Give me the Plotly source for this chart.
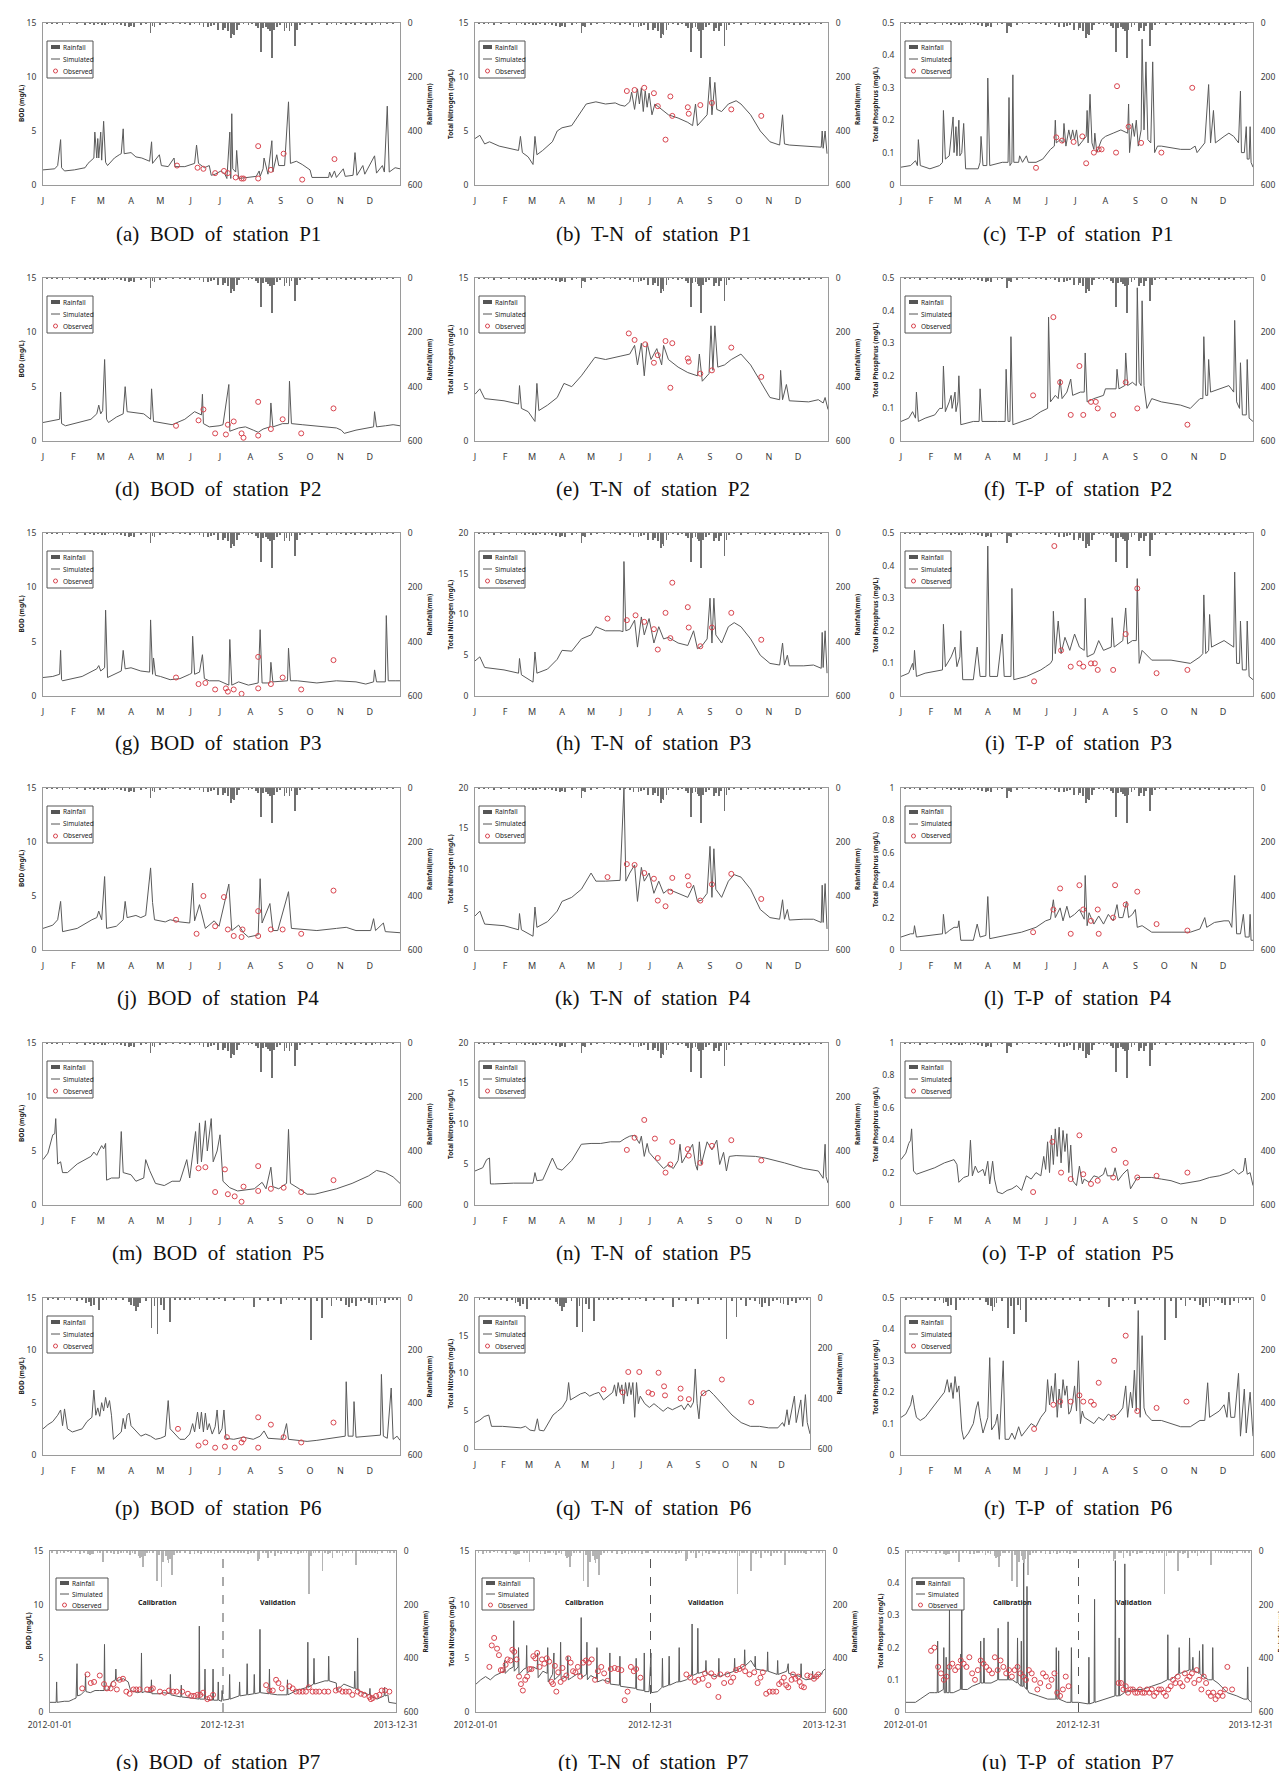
import plotly.graph_objects as go

W, H = 1287, 1771

MONTH_DAYS = [0, 31, 59, 90, 120, 151, 181, 212, 243, 273, 304, 334]
MONTH_LABELS = ['J', 'F', 'M', 'A', 'M', 'J', 'J', 'A', 'S', 'O', 'N', 'D']
P7_TICKS = [0, 365, 730]
P7_LABELS = ['2012-01-01', '2012-12-31', '2013-12-31']
RAIN_TICKS = [0, 200, 400, 600]

# ---------------- rainfall (day, mm) ----------------
rain_p1_p5 = [(4,3),(9,2),(14,2),(20,4),(27,2),(35,3),(43,5),(48,2),(52,6),(56,3),(60,5),(63,8),(67,3),(72,4),(76,2),(80,6),
              (84,12),(88,15),(90,10),(93,14),(100,4),(105,3),(110,37),(112,12),(114,16),(120,5),(126,2),(133,3),(140,3),
              (145,2),(150,4),(155,3),(160,8),(164,15),(169,14),(172,12),(175,4),(179,26),(184,25),(186,18),(189,30),
              (192,56),(193,40),(195,46),(198,25),(200,8),(205,3),(210,5),(214,3),(218,12),(220,20),(223,108),(225,18),
              (228,15),(230,22),(232,28),(234,130),(236,25),(239,15),(242,8),(247,30),(249,20),(252,28),(254,12),(258,86),
              (260,25),(263,8),(268,3),(275,4),(282,2),(290,5),(295,2),(300,8),(305,3),(310,5),(315,2),(319,8),(325,3),
              (330,4),(336,6),(340,2),(345,4),(352,2),(358,3)]
rain_p6 = [(5,5),(10,3),(15,8),(22,4),(28,5),(35,10),(40,4),(44,19),(47,15),(49,32),(52,25),(57,45),(61,5),(65,6),(70,4),
           (75,8),(82,5),(88,15),(90,25),(93,30),(95,50),(97,35),(99,20),(105,12),(111,114),(114,30),(117,136),(121,25),
           (124,44),(130,93),(135,5),(140,8),(145,4),(150,6),(155,3),(160,5),(168,4),(175,8),(180,3),(186,10),(195,8),
           (205,4),(216,34),(222,5),(230,10),(236,4),(243,22),(249,5),(255,8),(262,4),(268,5),(274,161),(280,10),(285,76),
           (290,8),(295,30),(300,5),(305,10),(310,25),(313,35),(316,20),(320,30),(325,12),(329,6),(333,20),(336,25),
           (341,28),(345,12),(350,18),(354,5),(358,6),(362,4)]
rain_p7 = [(5,4),(14,12),(22,4),(30,5),(38,3),(45,6),(54,4),(63,10),(72,4),(80,12),(84,15),(88,12),(91,10),(100,6),(106,4),
           (112,40),(120,6),(128,5),(135,10),(144,12),(150,4),(155,5),(162,4),(168,15),(174,6),(179,12),(187,20),(190,25),
           (193,22),(196,60),(200,18),(205,5),(210,8),(218,6),(225,110),(230,15),(235,135),(239,40),(245,20),(248,32),
           (250,45),(253,30),(258,88),(262,15),(268,5),(275,6),(285,4),(295,12),(305,10),(312,4),(319,10),(326,4),(333,8),
           (340,4),(347,12),(355,4),(360,5),(372,4),(380,6),(388,4),(396,9),(403,4),(410,6),(418,12),(424,4),(430,8),
           (439,38),(442,30),(450,8),(455,5),(460,25),(467,6),(474,18),(481,5),(488,12),(495,4),(500,6),(509,10),(516,4),
           (523,12),(530,5),(535,8),(541,4),(547,160),(551,20),(556,5),(560,8),(567,5),(575,75),(580,6),(586,12),(591,5),
           (596,25),(605,8),(611,4),(617,18),(624,5),(630,6),(638,4),(646,54),(655,8),(661,4),(667,9),(674,4),(680,6),
           (686,4),(691,12),(700,4),(712,9),(718,4),(725,5)]

# ---------------- simulated (day, value) and observed (day, value) ----------------
sim_a = [(0,1.4),(12,1.5),(15,1.8),(18,4.2),(19,1.6),(22,1.3),(32,1.4),(43,1.6),(46,2.0),(50,2.3),(52,2.5),(53,4.9),(55,2.5),
         (56,4.3),(57,2.5),(59,4.9),(60,2.3),(62,5.9),(64,2.1),(66,1.8),(73,2.5),(78,2.8),(80,2.9),(82,5.2),(83,2.9),(90,3.0),
         (95,2.6),(101,2.5),(109,2.2),(111,4.0),(112,2.0),(119,2.8),(121,1.8),(128,1.7),(134,2.5),(135,1.7),(145,1.7),(155,2.0),
         (157,3.7),(159,2.0),(165,1.6),(170,1.8),(172,0.9),(176,1.0),(182,1.3),(186,1.0),(188,0.6),(191,4.9),(192,0.6),(193,6.6),
         (194,1.5),(197,1.2),(198,3.2),(200,0.6),(210,0.7),(218,0.8),(221,1.3),(222,0.8),(225,1.5),(226,2.5),(230,1.0),(234,4.1),
         (235,1.2),(239,2.8),(241,1.8),(247,1.8),(251,7.7),(253,2.0),(259,2.2),(265,1.9),(273,1.4),(275,0.7),(292,0.7),(293,1.2),
         (295,0.7),(298,1.3),(300,0.7),(307,1.5),(309,0.8),(317,0.9),(319,3.0),(321,0.9),(327,1.8),(329,1.0),(339,2.7),(341,1.1),
         (347,1.8),(349,1.2),(352,7.3),(354,1.2),(360,1.6),(365,1.5)]
obs_a = [(137,1.8),(158,1.6),(164,1.5),(176,1.1),(185,1.3),(189,1.1),(197,0.7),(203,0.6),(205,0.6),(220,0.6),(220,3.6),
         (233,1.4),(246,2.9),(265,0.5),(298,2.4)]

sim_b = [(0,4.3),(5,4.6),(10,3.8),(15,4.0),(25,3.6),(35,3.4),(45,3.2),(47,4.5),(49,3.0),(55,2.6),(60,1.9),(62,4.5),(64,2.8),
         (70,3.2),(80,4.0),(85,5.0),(90,5.3),(100,5.5),(105,6.2),(110,6.8),(115,7.5),(125,7.7),(135,7.5),(145,7.6),(150,7.4),
         (155,7.3),(160,7.7),(162,8.6),(165,7.0),(168,8.9),(170,7.5),(172,9.0),(174,6.8),(176,8.7),(178,7.2),(180,8.5),(183,6.5),
         (186,7.5),(190,7.2),(195,6.8),(200,6.5),(210,6.2),(220,5.8),(225,5.5),(228,7.5),(230,5.5),(235,6.0),(240,6.5),(243,10.0),
         (245,6.5),(248,9.5),(250,7.0),(255,6.8),(262,7.5),(270,7.8),(275,7.5),(285,6.5),(295,5.0),(305,4.0),(315,3.7),(318,6.5),
         (320,3.8),(325,3.7),(340,3.6),(350,3.6),(358,3.5),(359,5.0),(360,3.4),(362,5.0),(364,2.9)]
obs_b = [(157,8.7),(165,8.8),(175,9.0),(185,8.5),(189,7.3),(197,4.2),(202,8.2),(204,6.4),(220,7.2),(221,6.6),(233,7.4),
         (245,7.6),(265,7.0),(296,6.4)]

sim_c = [(0,0.055),(10,0.06),(15,0.075),(17,0.06),(18,0.14),(20,0.06),(30,0.05),(40,0.06),(43,0.07),(44,0.23),(46,0.08),
         (50,0.09),(54,0.21),(55,0.10),(57,0.18),(58,0.09),(60,0.20),(61,0.09),(63,0.10),(65,0.19),(67,0.05),(80,0.05),(82,0.07),
         (83,0.15),(85,0.06),(89,0.06),(90,0.33),(92,0.06),(105,0.07),(111,0.07),(112,0.27),(113,0.06),(115,0.07),(116,0.34),
         (117,0.07),(122,0.07),(123,0.09),(126,0.07),(130,0.09),(132,0.07),(140,0.07),(147,0.08),(155,0.11),(159,0.12),(160,0.20),
         (161,0.13),(165,0.14),(168,0.13),(169,0.19),(171,0.12),(174,0.17),(176,0.14),(178,0.17),(180,0.14),(182,0.17),(184,0.12),
         (192,0.15),(193,0.23),(194,0.13),(196,0.28),(198,0.13),(200,0.11),(201,0.16),(203,0.10),(208,0.14),(212,0.15),(220,0.16),
         (228,0.17),(235,0.16),(236,0.25),(237,0.10),(238,0.13),(240,0.19),(242,0.15),(244,0.20),(246,0.12),(249,0.17),(250,0.45),
         (252,0.17),(254,0.38),(256,0.14),(259,0.13),(261,0.38),(263,0.10),(266,0.12),(270,0.12),(290,0.11),(300,0.11),(305,0.12),
         (307,0.10),(315,0.13),(319,0.31),(321,0.13),(324,0.23),(326,0.13),(335,0.15),(340,0.16),(345,0.15),(350,0.13),(352,0.29),
         (353,0.10),(356,0.10),(358,0.18),(359,0.08),(361,0.08),(362,0.18),(363,0.07),(365,0.055)]
obs_c = [(140,0.053),(161,0.147),(167,0.137),(179,0.133),(188,0.15),(192,0.067),(200,0.10),(205,0.11),(208,0.11),(224,0.305),
         (223,0.10),(236,0.18),(249,0.13),(270,0.10),(302,0.30)]

sim_d = [(0,1.7),(15,2.0),(17,2.0),(18,4.5),(19,1.6),(23,1.4),(35,1.7),(49,2.0),(55,2.5),(57,3.3),(59,2.5),(61,2.8),(63,7.5),
         (65,2.0),(67,1.7),(75,2.2),(82,2.5),(84,5.0),(86,2.7),(95,2.6),(103,2.5),(110,2.0),(111,4.8),(113,1.8),(120,1.7),
         (132,1.5),(145,2.0),(155,2.7),(162,2.4),(163,4.3),(164,1.6),(170,1.3),(180,1.4),(184,1.5),(190,5.2),(191,0.9),(200,1.2),
         (207,1.3),(215,1.0),(220,0.8),(225,1.1),(232,1.3),(233,3.5),(235,1.3),(245,1.6),(251,1.6),(252,5.5),(254,1.6),(265,1.5),
         (275,1.4),(290,1.3),(300,1.2),(305,1.0),(308,0.7),(320,1.0),(333,1.2),(338,1.3),(339,2.7),(341,1.3),(350,1.4),(358,1.5),
         (365,1.4)]
obs_d = [(136,1.4),(159,1.9),(164,2.9),(176,0.7),(187,0.6),(189,1.5),(195,1.8),(203,0.7),(205,0.3),(220,0.5),(220,3.6),
         (233,1.1),(245,2.0),(264,0.7),(297,3.0)]

sim_e = [(0,4.3),(5,4.8),(10,3.9),(30,3.7),(45,3.4),(46,5.1),(48,3.0),(55,2.7),(62,1.8),(64,5.3),(66,2.8),(75,3.3),(85,4.0),
         (92,5.3),(100,5.0),(110,6.0),(124,7.7),(135,7.5),(150,7.8),(160,8.0),(165,8.8),(168,7.0),(172,9.0),(175,6.0),(178,9.0),
         (182,7.5),(188,8.5),(193,7.0),(195,8.8),(200,7.5),(210,6.8),(220,6.3),(230,6.0),(232,8.0),(235,5.5),(242,6.2),(244,10.6),
         (246,6.5),(248,10.6),(251,6.8),(258,7.0),(265,7.5),(275,8.0),(285,7.0),(295,5.5),(305,4.0),(315,3.8),(316,6.5),(318,3.8),
         (322,5.2),(325,3.7),(345,3.6),(355,3.8),(360,3.5),(362,4.0),(365,2.9)]
obs_e = [(159,9.9),(165,9.3),(176,8.9),(185,7.2),(189,7.9),(197,9.2),(202,4.9),(204,9.0),(220,7.6),(221,7.3),(233,6.2),
         (245,6.5),(265,8.6),(296,5.9)]

sim_f = [(0,0.06),(8,0.07),(12,0.09),(15,0.07),(16,0.15),(18,0.06),(25,0.07),(35,0.08),(40,0.10),(43,0.10),(44,0.23),(46,0.09),
         (50,0.12),(52,0.14),(53,0.10),(56,0.15),(57,0.09),(59,0.12),(60,0.20),(62,0.05),(75,0.06),(81,0.06),(82,0.16),(84,0.06),
         (100,0.06),(108,0.06),(109,0.22),(111,0.06),(113,0.06),(114,0.32),(116,0.05),(125,0.06),(135,0.07),(145,0.09),(152,0.10),
         (153,0.38),(155,0.12),(160,0.14),(163,0.13),(165,0.19),(167,0.13),(172,0.15),(176,0.19),(178,0.14),(186,0.15),(190,0.15),
         (191,0.27),(193,0.12),(200,0.13),(210,0.14),(212,0.16),(223,0.16),(224,0.22),(226,0.16),(232,0.17),(233,0.27),(235,0.17),
         (240,0.18),(244,0.17),(245,0.47),(247,0.18),(249,0.17),(250,0.43),(252,0.17),(255,0.10),(260,0.13),(270,0.12),(290,0.11),
         (300,0.10),(310,0.13),(313,0.13),(314,0.32),(316,0.14),(318,0.14),(319,0.25),(321,0.15),(330,0.16),(340,0.17),(345,0.15),
         (346,0.37),(348,0.12),(351,0.10),(352,0.24),(354,0.08),(358,0.08),(359,0.25),(361,0.07),(365,0.06)]
obs_f = [(137,0.14),(158,0.38),(165,0.18),(176,0.08),(185,0.23),(189,0.08),(197,0.12),(202,0.12),(204,0.10),(220,0.08),
         (233,0.18),(245,0.10),(297,0.05)]

sim_g = [(0,1.7),(10,1.8),(17,2.0),(18,4.2),(19,1.5),(20,1.4),(40,1.8),(55,2.5),(57,2.8),(59,2.3),(63,2.6),(64,7.9),(66,1.7),
         (80,2.3),(82,4.2),(84,2.5),(90,2.6),(100,2.3),(109,2.2),(110,7.0),(112,2.0),(113,3.5),(115,1.9),(120,1.8),(130,1.5),
         (140,1.6),(150,2.0),(152,2.1),(153,5.5),(155,2.0),(160,2.2),(163,3.8),(165,1.6),(170,1.4),(180,1.4),(190,1.0),(191,5.2),
         (193,1.0),(200,1.3),(210,1.0),(220,1.2),(222,6.1),(224,1.2),(232,1.2),(233,3.1),(235,1.3),(250,1.4),(251,4.4),(253,1.4),
         (260,1.4),(280,1.2),(300,1.4),(320,1.3),(330,1.1),(338,1.3),(339,2.4),(341,1.3),(350,1.3),(351,7.4),(353,1.4),(360,1.4),
         (365,1.4)]
obs_g = [(136,1.7),(159,1.1),(166,1.2),(176,0.6),(187,0.7),(189,0.4),(195,0.6),(203,0.2),(220,0.7),(220,3.6),(233,1.1),
         (245,1.7),(264,0.6),(297,3.3)]

sim_h = [(0,4.3),(5,4.8),(10,3.5),(30,3.2),(45,2.8),(46,4.6),(48,2.6),(60,1.7),(62,5.4),(64,2.8),(75,3.3),(85,4.5),(90,5.6),
         (100,5.5),(110,7.0),(120,7.5),(125,8.5),(135,8.0),(150,8.0),(153,7.9),(154,16.5),(156,8.0),(160,8.2),(165,9.3),(168,6.0),
         (172,9.7),(175,7.5),(180,9.5),(185,6.5),(190,8.5),(195,7.0),(200,7.2),(210,6.5),(220,6.2),(226,8.0),(230,5.8),(235,6.2),
         (240,7.0),(243,12.0),(245,6.5),(247,12.0),(249,7.5),(255,6.5),(262,8.5),(268,9.0),(275,8.5),(285,7.0),(295,5.0),(305,4.0),
         (315,3.8),(318,6.5),(320,3.8),(323,5.0),(325,3.7),(340,3.7),(350,3.8),(358,3.4),(359,7.8),(360,3.5),(362,8.0),(364,2.8)]
obs_h = [(137,9.5),(157,9.3),(166,9.9),(175,9.1),(185,8.2),(189,5.7),(197,10.2),(202,7.1),(204,13.9),(220,10.9),(221,8.4),
         (233,6.1),(245,8.4),(265,10.2),(296,6.9)]

sim_i = [(0,0.06),(8,0.07),(12,0.10),(13,0.08),(14,0.14),(16,0.06),(25,0.07),(40,0.08),(43,0.08),(44,0.22),(46,0.09),(52,0.12),
         (56,0.15),(58,0.09),(61,0.12),(62,0.20),(64,0.05),(75,0.05),(79,0.15),(82,0.06),(88,0.06),(90,0.46),(92,0.06),(100,0.06),
         (105,0.19),(107,0.06),(114,0.06),(115,0.33),(117,0.05),(130,0.06),(145,0.08),(150,0.09),(155,0.10),(157,0.11),(158,0.26),
         (160,0.13),(163,0.23),(166,0.13),(170,0.18),(175,0.14),(180,0.19),(185,0.15),(190,0.14),(191,0.30),(193,0.12),(200,0.13),
         (205,0.17),(210,0.14),(218,0.15),(219,0.24),(221,0.15),(230,0.17),(233,0.27),(235,0.16),(240,0.17),(244,0.17),(245,0.36),
         (247,0.10),(250,0.14),(260,0.11),(280,0.11),(300,0.10),(310,0.12),(313,0.13),(314,0.31),(316,0.13),(319,0.14),(320,0.25),
         (322,0.15),(335,0.17),(340,0.16),(345,0.15),(346,0.38),(348,0.10),(351,0.10),(352,0.23),(354,0.08),(358,0.08),(359,0.23),
         (361,0.06),(365,0.05)]
obs_i = [(138,0.045),(159,0.46),(166,0.14),(176,0.09),(185,0.10),(189,0.09),(197,0.10),(201,0.10),(204,0.08),(220,0.08),
         (233,0.19),(245,0.33),(265,0.07),(297,0.08)]

sim_j = [(0,2.0),(10,2.3),(15,2.8),(18,4.5),(20,1.7),(35,2.0),(50,2.8),(55,3.0),(57,3.6),(60,2.8),(63,6.8),(65,2.0),(75,2.2),
         (82,2.8),(84,4.5),(86,3.0),(95,3.2),(100,3.0),(105,3.2),(110,7.6),(112,4.4),(114,2.8),(125,2.6),(130,2.8),(140,2.6),
         (150,2.5),(153,6.2),(155,2.7),(160,4.2),(163,3.2),(166,2.0),(175,2.7),(180,2.2),(190,6.1),(193,1.8),(200,2.3),(205,1.6),
         (210,1.2),(220,1.4),(222,6.6),(224,2.5),(232,4.3),(235,1.8),(240,1.8),(251,5.4),(254,2.0),(265,1.9),(280,1.8),(300,2.0),
         (310,2.1),(320,1.8),(335,1.8),(338,2.9),(340,1.8),(348,2.5),(350,1.7),(365,1.6)]
obs_j = [(136,2.8),(157,1.5),(164,5.0),(176,2.2),(185,4.9),(189,1.9),(195,1.3),(203,1.2),(204,1.9),(220,1.3),(220,3.6),
         (233,1.9),(245,1.9),(264,1.5),(297,5.5)]

sim_k = [(0,4.2),(5,4.8),(10,3.2),(30,3.0),(45,2.5),(46,4.5),(48,2.5),(60,1.7),(62,5.3),(64,2.8),(75,3.5),(85,4.8),(90,6.0),
         (100,6.5),(110,7.5),(115,8.5),(120,9.5),(125,8.5),(135,8.5),(150,8.6),(154,20.0),(156,8.5),(160,9.5),(165,10.5),(168,6.0),
         (172,10.2),(175,8.5),(180,9.5),(185,7.0),(190,8.5),(195,7.0),(200,7.5),(210,7.0),(220,6.5),(226,8.0),(230,6.0),(235,6.2),
         (240,7.0),(243,12.8),(245,6.5),(247,12.5),(249,7.5),(255,6.5),(262,8.5),(268,9.3),(275,9.0),(285,7.5),(295,5.0),(305,4.0),
         (315,3.8),(318,6.2),(320,3.8),(323,5.0),(325,3.7),(340,3.8),(350,3.8),(358,3.4),(359,8.0),(360,3.4),(362,8.2),(364,2.6)]
obs_k = [(137,9.0),(157,10.6),(165,10.5),(175,9.5),(185,8.8),(189,6.1),(197,5.4),(202,7.2),(204,8.9),(220,9.1),(221,8.0),
         (233,6.1),(245,8.1),(265,9.4),(296,6.3)]

sim_l = [(0,0.08),(10,0.10),(13,0.10),(14,0.15),(16,0.08),(30,0.09),(43,0.10),(44,0.22),(46,0.10),(50,0.12),(55,0.14),(59,0.14),
         (60,0.18),(62,0.06),(75,0.06),(79,0.16),(82,0.08),(88,0.09),(90,0.33),(92,0.07),(110,0.09),(125,0.11),(140,0.14),
         (150,0.18),(155,0.19),(158,0.31),(160,0.20),(165,0.26),(168,0.18),(172,0.27),(175,0.20),(180,0.22),(185,0.25),(190,0.19),
         (191,0.46),(193,0.15),(195,0.23),(200,0.16),(205,0.21),(210,0.16),(215,0.22),(220,0.18),(224,0.28),(226,0.20),(230,0.20),
         (234,0.30),(236,0.20),(240,0.22),(243,0.25),(245,0.14),(250,0.15),(260,0.11),(280,0.11),(300,0.11),(310,0.13),(315,0.20),
         (317,0.14),(325,0.17),(335,0.18),(340,0.18),(343,0.14),(346,0.46),(348,0.10),(352,0.10),(355,0.22),(357,0.08),(361,0.08),
         (362,0.22),(363,0.06),(365,0.06)]
obs_l = [(137,0.11),(158,0.25),(165,0.38),(176,0.10),(185,0.40),(189,0.25),(197,0.18),(204,0.25),(205,0.10),(220,0.20),
         (222,0.40),(233,0.28),(245,0.36),(265,0.16),(297,0.12)]

sim_m = [(0,4.2),(5,4.8),(10,6.5),(12,6.6),(13,8.0),(15,3.8),(18,4.0),(20,3.0),(25,3.0),(35,3.8),(45,4.3),(49,4.5),(52,4.9),
         (55,4.6),(57,5.0),(60,5.5),(62,5.2),(64,5.7),(65,2.3),(70,2.5),(78,2.5),(80,6.8),(82,3.0),(90,2.8),(95,2.2),(103,2.5),
         (105,4.2),(109,3.2),(115,2.0),(124,1.8),(132,2.2),(140,2.2),(147,4.2),(150,2.5),(156,6.8),(158,3.8),(160,7.6),(162,4.0),
         (166,7.8),(168,5.0),(172,8.0),(174,4.0),(178,5.0),(181,6.5),(184,2.2),(191,1.6),(199,1.3),(207,1.4),(216,1.5),(224,2.1),
         (228,1.5),(233,3.5),(235,1.7),(241,1.5),(249,2.0),(251,7.0),(253,2.0),(262,1.5),(270,1.0),(278,1.0),(291,1.3),(300,1.5),
         (316,2.0),(333,2.7),(341,3.2),(350,3.0),(358,2.6),(365,2.0)]
obs_m = [(159,3.4),(166,3.5),(176,1.2),(186,3.3),(189,1.0),(196,0.8),(203,0.3),(205,1.7),(220,1.3),(220,3.6),(233,1.5),
         (246,1.6),(264,1.2),(297,2.3)]

sim_n = [(0,4.2),(8,4.6),(12,5.6),(15,5.8),(16,2.6),(20,2.6),(40,2.7),(60,2.7),(62,4.0),(64,3.0),(70,3.1),(75,4.5),(80,5.8),
         (85,4.5),(90,4.3),(100,5.5),(105,6.5),(110,7.5),(120,7.6),(130,7.6),(140,7.8),(150,7.8),(155,8.2),(160,8.5),(165,8.6),
         (170,7.6),(172,8.5),(175,6.0),(178,7.6),(180,6.5),(185,5.8),(190,5.2),(195,4.5),(200,5.0),(205,4.5),(210,5.5),(212,7.5),
         (214,5.2),(220,6.5),(225,7.5),(228,5.0),(230,4.3),(232,7.8),(234,5.0),(240,7.8),(245,6.8),(250,8.0),(253,5.0),(257,6.5),
         (260,4.2),(263,6.0),(270,6.1),(290,6.0),(300,5.8),(320,5.2),(340,4.5),(355,4.2),(360,3.3),(362,7.5),(363,3.5),(365,2.7)]
obs_n = [(157,6.8),(165,8.3),(175,10.5),(186,8.2),(189,5.8),(197,4.0),(202,5.0),(204,7.8),(220,6.9),(221,6.1),(233,5.2),
         (245,7.3),(265,8.0),(296,5.5)]

sim_o = [(0,0.28),(5,0.32),(8,0.38),(10,0.40),(11,0.47),(13,0.21),(16,0.19),(25,0.21),(35,0.23),(45,0.26),(50,0.27),(55,0.28),
         (58,0.25),(60,0.14),(65,0.17),(70,0.18),(72,0.40),(74,0.18),(77,0.24),(80,0.20),(85,0.22),(87,0.18),(90,0.27),(92,0.13),
         (95,0.27),(97,0.16),(100,0.08),(105,0.07),(110,0.09),(115,0.10),(120,0.12),(125,0.09),(130,0.18),(135,0.16),(140,0.20),
         (145,0.18),(148,0.30),(150,0.22),(152,0.39),(154,0.20),(156,0.43),(158,0.25),(160,0.47),(162,0.30),(164,0.48),(166,0.26),
         (168,0.46),(170,0.33),(172,0.44),(174,0.20),(176,0.37),(178,0.15),(182,0.12),(185,0.24),(188,0.13),(190,0.16),(195,0.14),
         (200,0.18),(205,0.17),(210,0.19),(212,0.23),(214,0.18),(220,0.18),(222,0.23),(225,0.15),(230,0.19),(235,0.22),(238,0.10),
         (245,0.17),(250,0.17),(260,0.17),(270,0.16),(280,0.15),(290,0.13),(300,0.14),(310,0.15),(320,0.17),(330,0.18),(340,0.20),
         (345,0.22),(350,0.19),(355,0.21),(357,0.29),(359,0.19),(362,0.20),(365,0.12)]
obs_o = [(137,0.08),(157,0.39),(166,0.20),(176,0.16),(185,0.43),(189,0.19),(197,0.13),(204,0.15),(220,0.17),(221,0.34),
         (233,0.26),(245,0.17),(265,0.18),(297,0.20)]

sim_p = [(0,2.5),(5,2.9),(10,3.2),(15,3.8),(18,4.3),(20,2.8),(22,4.4),(25,2.5),(30,2.2),(40,2.5),(45,3.2),(50,3.6),(52,6.2),
         (54,3.8),(56,4.5),(58,3.7),(60,5.0),(62,4.2),(64,5.5),(66,4.5),(68,5.2),(70,3.8),(72,1.5),(75,1.8),(80,2.2),(82,3.5),
         (84,2.5),(86,3.8),(88,4.0),(90,2.8),(95,2.3),(100,1.8),(105,2.0),(110,1.8),(115,1.5),(120,1.6),(125,1.8),(128,5.2),
         (130,2.5),(135,2.0),(140,1.5),(145,1.5),(148,1.8),(150,2.0),(153,3.0),(155,2.2),(158,4.1),(160,2.5),(162,4.1),(164,2.2),
         (166,4.0),(168,2.4),(170,3.0),(173,2.0),(176,2.7),(178,4.3),(180,2.0),(183,2.5),(185,4.3),(187,1.6),(195,1.5),(205,1.7),
         (215,1.5),(222,1.8),(226,2.3),(230,1.6),(245,1.5),(249,3.0),(251,1.5),(260,1.4),(270,1.3),(280,1.4),(295,1.6),(305,1.7),
         (309,1.8),(310,7.0),(312,1.8),(317,1.8),(318,5.1),(320,1.7),(330,1.8),(340,1.9),(345,1.9),(346,7.7),(348,1.8),(352,1.6),
         (356,6.4),(358,1.5),(362,1.8),(365,1.4)]
obs_p = [(138,2.5),(159,0.9),(166,1.2),(176,0.7),(186,0.8),(188,1.7),(196,0.7),(203,1.2),(205,1.5),(220,3.6),(220,0.7),
         (233,2.9),(246,1.7),(264,1.2),(297,3.1)]

sim_q = [(0,3.5),(5,3.8),(10,4.3),(15,4.5),(18,3.0),(30,3.0),(50,2.8),(55,3.0),(60,2.5),(65,2.4),(68,4.0),(70,2.5),(75,2.4),
         (80,3.5),(85,4.5),(90,5.0),(95,5.5),(100,6.5),(102,8.8),(104,6.5),(110,7.0),(115,7.3),(120,7.5),(125,7.0),(130,7.3),
         (135,7.5),(140,6.5),(145,7.0),(150,7.5),(152,8.5),(154,7.0),(156,8.8),(158,7.5),(160,8.5),(162,6.0),(164,8.8),(166,7.0),
         (168,8.8),(170,7.2),(172,8.8),(174,4.2),(176,8.8),(178,6.0),(180,7.0),(185,6.0),(190,5.5),(195,6.0),(200,5.5),(205,5.0),
         (210,5.5),(215,5.2),(220,5.5),(225,5.8),(228,5.2),(232,6.0),(235,5.5),(238,6.2),(240,10.6),(242,6.0),(244,4.0),(246,7.0),
         (250,7.5),(255,7.8),(260,7.2),(265,6.5),(270,5.8),(280,4.5),(290,3.5),(300,3.0),(310,3.0),(320,2.8),(330,2.8),(335,3.5),
         (337,3.0),(340,5.2),(342,3.2),(348,7.0),(350,3.5),(355,6.5),(357,3.0),(360,7.2),(362,3.5),(365,2.0)]
obs_q = [(140,7.9),(161,7.5),(167,10.2),(179,10.2),(189,7.5),(193,7.3),(200,10.1),(206,8.3),(207,7.1),(224,6.7),(224,8.0),
         (233,6.6),(249,7.4),(269,9.2),(301,6.2)]

sim_r = [(0,0.12),(5,0.13),(10,0.16),(12,0.19),(14,0.15),(16,0.12),(20,0.11),(25,0.12),(30,0.14),(35,0.16),(40,0.18),(45,0.20),
         (48,0.24),(50,0.20),(52,0.23),(54,0.18),(56,0.25),(58,0.20),(60,0.22),(63,0.08),(65,0.05),(70,0.07),(75,0.10),(78,0.15),
         (80,0.17),(82,0.12),(85,0.07),(90,0.12),(92,0.31),(94,0.08),(98,0.10),(100,0.13),(102,0.05),(106,0.30),(108,0.05),
         (112,0.05),(115,0.07),(118,0.05),(122,0.09),(125,0.06),(130,0.08),(135,0.10),(140,0.09),(145,0.12),(150,0.14),(152,0.24),
         (154,0.16),(156,0.22),(158,0.17),(160,0.26),(162,0.12),(164,0.21),(166,0.15),(168,0.24),(170,0.19),(172,0.22),(174,0.13),
         (176,0.14),(178,0.17),(180,0.22),(182,0.14),(184,0.30),(186,0.10),(188,0.14),(190,0.12),(195,0.11),(200,0.10),(205,0.12),
         (210,0.11),(215,0.13),(220,0.12),(225,0.13),(230,0.15),(233,0.22),(235,0.12),(238,0.20),(240,0.15),(242,0.27),(244,0.14),
         (246,0.46),(248,0.12),(250,0.38),(252,0.15),(254,0.13),(260,0.11),(270,0.11),(280,0.10),(290,0.09),(300,0.09),(305,0.10),
         (310,0.11),(315,0.11),(318,0.23),(320,0.12),(325,0.13),(330,0.14),(335,0.16),(338,0.12),(340,0.20),(342,0.12),(346,0.12),
         (350,0.26),(352,0.06),(356,0.21),(358,0.07),(362,0.20),(365,0.06)]
obs_r = [(138,0.083),(158,0.16),(165,0.17),(176,0.17),(185,0.19),(189,0.17),(197,0.17),(200,0.16),(205,0.23),(221,0.30),
         (220,0.12),(233,0.38),(245,0.14),(265,0.15),(296,0.17)]

sim_s = [(0,0.9),(13,0.9),(14,2.8),(15,0.9),(30,1.0),(40,1.0),(50,1.2),(55,1.3),(57,4.5),(58,1.5),(65,1.6),(74,2.0),(75,3.5),
         (76,1.9),(85,1.8),(95,2.0),(105,2.0),(114,2.0),(115,6.3),(116,2.0),(125,2.1),(130,2.8),(138,3.0),(139,4.0),(140,2.9),
         (155,3.1),(165,2.8),(170,2.0),(185,1.8),(192,1.9),(193,5.5),(194,1.8),(200,1.9),(213,1.8),(214,3.0),(215,1.7),(230,1.7),
         (240,1.8),(253,1.7),(254,3.5),(255,1.6),(265,1.5),(276,1.4),(277,2.5),(278,1.4),(300,1.3),(314,1.2),(315,8.0),(316,1.2),
         (326,1.2),(327,4.0),(328,1.2),(343,1.1),(344,4.0),(345,1.1),(354,1.1),(355,2.8),(356,1.1),(362,1.0),(363,2.0),(365,1.1),
         (378,1.2),(379,3.5),(380,1.2),(399,1.5),(400,2.8),(401,1.5),(415,1.6),(416,4.5),(417,1.6),(430,1.7),(431,3.5),(432,1.7),
         (442,1.8),(443,7.7),(444,1.8),(462,1.7),(463,4.0),(464,1.7),(480,1.6),(500,1.6),(501,3.0),(502,1.6),(520,2.0),(543,2.3),
         (544,6.5),(545,2.3),(556,2.6),(557,5.0),(558,2.6),(580,2.9),(587,2.9),(588,5.2),(589,2.9),(600,2.8),(604,2.7),(605,2.0),
         (620,2.6),(642,2.2),(643,3.8),(644,2.2),(648,2.1),(649,6.9),(650,2.0),(660,1.8),(674,1.6),(675,2.2),(676,1.5),(690,1.2),
         (700,1.4),(705,1.5),(706,2.3),(707,1.5),(713,1.6),(715,0.9),(730,0.8)]
obs_s = [(68,2.2),(79,3.5),(86,2.7),(93,2.8),(105,3.4),(114,2.6),(120,2.2),(128,2.2),(134,2.6),(141,2.1),(147,3.0),(154,3.1),
         (161,1.9),(168,1.7),(176,2.1),(182,2.1),(189,2.1),(205,2.1),(213,2.1),(217,2.2),(232,1.9),(242,1.8),(251,2.0),(260,1.9),
         (267,1.9),(279,1.9),(291,1.7),(298,1.5),(304,1.5),(311,1.6),(317,1.6),(323,1.8),(332,1.2),(337,1.3),(344,1.6),(456,2.5),
         (463,2.0),(470,2.0),(477,3.0),(482,2.7),(489,2.2),(505,2.4),(512,2.2),(519,1.9),(526,1.9),(533,1.9),(540,1.9),(546,2.3),
         (554,1.9),(561,1.9),(568,1.9),(579,1.9),(587,1.9),(603,2.0),(610,2.1),(617,1.9),(624,1.9),(631,1.9),(638,1.6),(649,1.9),
         (656,1.7),(663,1.6),(674,1.4),(677,1.2),(681,1.3),(688,1.5),(695,1.6),(700,2.0),(707,2.0),(716,1.9)]

sim_t = [(0,2.6),(10,3.0),(20,3.3),(30,3.0),(40,3.4),(50,3.6),(59,3.8),(60,4.8),(61,3.6),(70,4.0),(78,4.2),(79,8.5),(80,3.8),
         (88,4.2),(89,6.0),(90,3.5),(100,4.0),(105,4.1),(106,6.2),(107,3.6),(120,4.2),(128,4.0),(129,5.5),(130,3.2),(140,3.8),
         (149,3.6),(150,6.0),(151,2.8),(160,3.5),(163,5.5),(164,3.0),(176,3.5),(177,6.5),(178,3.0),(191,3.4),(192,5.2),(193,3.0),
         (200,3.2),(210,3.5),(219,3.6),(220,8.8),(221,3.2),(231,3.5),(232,6.5),(233,3.0),(240,3.4),(252,3.1),(253,6.0),(254,2.8),
         (265,3.0),(279,2.8),(280,5.5),(281,2.6),(300,2.5),(301,5.2),(302,2.4),(320,2.3),(334,2.2),(335,5.0),(336,2.1),(351,2.0),
         (352,5.5),(353,1.9),(362,1.9),(366,5.5),(367,1.8),(380,1.9),(389,2.3),(390,5.0),(391,2.3),(403,2.5),(404,5.2),(405,2.5),
         (420,2.8),(424,2.8),(425,6.0),(426,2.8),(440,3.0),(451,3.4),(452,8.2),(453,3.4),(463,3.6),(464,7.8),(465,3.6),(480,3.8),
         (481,4.8),(482,3.6),(500,3.3),(507,3.4),(508,5.0),(509,3.3),(520,3.5),(540,3.8),(541,5.0),(542,3.8),(561,4.3),(562,5.8),
         (563,4.3),(575,4.8),(583,4.2),(584,5.2),(585,4.0),(609,3.8),(610,5.6),(611,3.8),(630,3.5),(631,4.8),(632,3.5),(650,3.8),
         (653,4.5),(654,3.6),(670,3.4),(679,3.3),(680,4.5),(681,3.2),(690,3.0),(703,3.1),(704,3.8),(705,3.1),(710,3.2),(722,3.6),
         (723,3.5),(725,3.8),(730,4.0)]
obs_t = [(28,4.2),(33,6.2),(38,6.9),(44,5.9),(48,5.3),(52,3.9),(56,3.9),(62,4.4),(66,4.9),(72,4.8),(76,5.8),(80,5.6),(85,4.9),
         (90,3.3),(94,2.6),(98,2.0),(103,3.0),(107,3.3),(112,4.0),(116,4.0),(120,5.2),(124,5.0),(128,5.5),(133,4.2),(138,4.9),
         (143,4.5),(148,5.0),(153,4.7),(158,2.8),(161,2.6),(165,4.3),(168,1.9),(172,3.7),(177,2.8),(181,4.1),(184,3.1),(189,3.4),
         (193,5.0),(198,4.6),(203,3.8),(208,3.7),(213,4.2),(218,3.3),(224,4.6),(230,4.8),(236,4.6),(242,4.9),(249,3.0),(255,3.8),
         (262,4.2),(268,3.6),(275,2.9),(282,4.0),(290,4.1),(297,4.0),(304,3.9),(311,1.1),(317,1.9),(324,4.2),(330,3.8),(335,4.0),
         (344,3.2),(440,3.5),(448,3.2),(458,2.8),(465,3.0),(474,3.1),(479,3.6),(486,2.5),(492,3.6),(498,3.3),(507,1.4),(511,3.5),
         (519,2.7),(526,3.5),(533,2.8),(538,3.2),(544,3.9),(551,4.0),(558,4.2),(563,3.8),(572,3.5),(582,3.7),(589,2.7),(595,3.2),
         (600,3.7),(607,1.7),(614,1.9),(621,1.9),(628,1.9),(634,2.6),(639,2.8),(644,3.2),(649,2.5),(653,2.3),(660,3.0),(663,3.5),
         (668,3.1),(674,3.3),(677,2.8),(681,2.4),(686,2.3),(693,3.4),(700,3.3),(707,3.1),(712,3.3),(716,3.5)]

sim_u = [(0,0.03),(20,0.03),(30,0.04),(40,0.05),(50,0.06),(60,0.06),(66,0.06),(67,0.22),(68,0.06),(79,0.07),(80,0.20),(81,0.06),
         (84,0.06),(85,0.17),(86,0.06),(91,0.06),(92,0.33),(93,0.06),(100,0.06),(115,0.07),(116,0.18),(117,0.07),(118,0.36),
         (119,0.07),(130,0.07),(140,0.08),(157,0.09),(158,0.22),(159,0.09),(164,0.09),(165,0.23),(166,0.09),(180,0.09),(194,0.10),
         (195,0.26),(196,0.10),(200,0.10),(215,0.10),(216,0.28),(217,0.10),(225,0.10),(235,0.09),(236,0.23),(237,0.09),(243,0.08),
         (244,0.22),(245,0.08),(248,0.08),(249,0.50),(250,0.08),(255,0.07),(256,0.39),(257,0.07),(260,0.06),(280,0.05),(300,0.04),
         (317,0.04),(318,0.20),(319,0.04),(322,0.04),(323,0.19),(324,0.04),(340,0.03),(349,0.03),(350,0.20),(351,0.03),(365,0.03),
         (380,0.025),(386,0.025),(387,0.17),(388,0.025),(398,0.03),(399,0.35),(400,0.03),(420,0.04),(440,0.05),(442,0.05),
         (443,0.47),(444,0.05),(450,0.05),(451,0.23),(452,0.05),(460,0.06),(462,0.06),(463,0.46),(464,0.06),(480,0.07),(500,0.07),
         (520,0.08),(540,0.09),(553,0.10),(554,0.24),(555,0.10),(560,0.10),(577,0.12),(578,0.20),(579,0.12),(580,0.12),(599,0.13),
         (600,0.23),(601,0.13),(606,0.13),(607,0.17),(608,0.13),(620,0.12),(621,0.19),(622,0.12),(627,0.11),(628,0.21),(629,0.11),
         (640,0.10),(648,0.10),(649,0.20),(650,0.10),(660,0.09),(680,0.06),(700,0.05),(715,0.04),(722,0.04),(723,0.14),(724,0.04),
         (730,0.03)]
obs_u = [(53,0.19),(60,0.20),(68,0.14),(74,0.12),(80,0.10),(86,0.11),(92,0.14),(98,0.15),(104,0.13),(110,0.14),(116,0.16),
         (122,0.15),(128,0.14),(134,0.17),(140,0.12),(146,0.10),(152,0.13),(158,0.16),(164,0.15),(170,0.14),(176,0.13),(182,0.12),
         (188,0.17),(194,0.13),(200,0.16),(206,0.14),(212,0.12),(218,0.13),(224,0.11),(230,0.13),(236,0.14),(242,0.12),(248,0.11),
         (254,0.10),(260,0.13),(266,0.12),(272,0.10),(278,0.07),(284,0.09),(290,0.12),(296,0.11),(302,0.08),(308,0.10),(314,0.12),
         (320,0.06),(326,0.05),(332,0.07),(338,0.11),(344,0.08),(450,0.09),(455,0.09),(460,0.07),(465,0.08),(470,0.06),(475,0.07),
         (480,0.07),(485,0.06),(490,0.06),(495,0.07),(500,0.06),(505,0.06),(510,0.07),(515,0.06),(520,0.07),(525,0.05),(530,0.06),
         (535,0.07),(540,0.07),(545,0.06),(550,0.05),(555,0.07),(560,0.08),(565,0.10),(570,0.09),(575,0.11),(580,0.09),(585,0.08),
         (590,0.12),(595,0.10),(600,0.11),(605,0.12),(610,0.09),(615,0.13),(620,0.10),(625,0.07),(630,0.11),(635,0.09),(640,0.06),
         (645,0.05),(650,0.06),(655,0.04),(660,0.05),(665,0.06),(670,0.05),(675,0.07),(680,0.14),(690,0.07)]

# ---------------- panel text ----------------
captions = ['(a)  BOD  of  station  P1', '(b)  T-N  of  station  P1', '(c)  T-P  of  station  P1',
            '(d)  BOD  of  station  P2', '(e)  T-N  of  station  P2', '(f)  T-P  of  station  P2',
            '(g)  BOD  of  station  P3', '(h)  T-N  of  station  P3', '(i)  T-P  of  station  P3',
            '(j)  BOD  of  station  P4', '(k)  T-N  of  station  P4', '(l)  T-P  of  station  P4',
            '(m)  BOD  of  station  P5', '(n)  T-N  of  station  P5', '(o)  T-P  of  station  P5',
            '(p)  BOD  of  station  P6', '(q)  T-N  of  station  P6', '(r)  T-P  of  station  P6',
            '(s)  BOD  of  station  P7', '(t)  T-N  of  station  P7', '(u)  T-P  of  station  P7']
ytitles = ['BOD (mg/L)', 'Total Nitrogen (mg/L)', 'Total Phosphrus (mg/L)']
ymax = [15, 15, 0.5, 15, 15, 0.5, 15, 20, 0.5, 15, 20, 1, 15, 20, 1, 15, 20, 0.5, 15, 15, 0.5]

sims = [sim_a, sim_b, sim_c, sim_d, sim_e, sim_f, sim_g, sim_h, sim_i, sim_j, sim_k, sim_l,
        sim_m, sim_n, sim_o, sim_p, sim_q, sim_r, sim_s, sim_t, sim_u]
obss = [obs_a, obs_b, obs_c, obs_d, obs_e, obs_f, obs_g, obs_h, obs_i, obs_j, obs_k, obs_l,
        obs_m, obs_n, obs_o, obs_p, obs_q, obs_r, obs_s, obs_t, obs_u]
rains = [rain_p1_p5] * 15 + [rain_p6] * 3 + [rain_p7] * 3

# ---------------- layout geometry (pixels) ----------------
COL_X = [(35, 392), (467, 820), (893, 1245)]
COL_X7 = [(42, 388), (468, 817), (898, 1243)]
ROW_Y = [(15, 177), (270, 433), (525, 688), (780, 942), (1035, 1197), (1290, 1447), (1543, 1704)]
CAP_X = [210, 645, 1070]
CAP_Y0, CAP_DY = 226, 254.7
TITLE_OFF = [22, 25, 26]

AX_COL = '#9a9a9a'
TXT_COL = '#3a3a3a'
SANS = 'Noto Sans, Arial, sans-serif'
NO_TICK = 'rgba(0,0,0,0)'


def px(x):
    return x / W


def py(y):
    return 1 - y / H


fig = go.Figure()
layout = dict(template='none', width=W, height=H, autosize=False, margin=dict(l=0, r=0, t=0, b=0, pad=0),
              paper_bgcolor='white', plot_bgcolor='rgba(0,0,0,0)', showlegend=False, bargap=0)
shapes, annotations = [], []
tick_font = dict(family=SANS, size=8.5, color=TXT_COL)

for k in range(21):
    row, col = divmod(k, 3)
    l, r = (COL_X7 if row == 6 else COL_X)[col]
    t, b = ROW_Y[row]
    if k == 16:  # panel (q) is slightly smaller
        r, b = 802, 1441
    xn = k + 1
    yan, ybn = 2 * k + 1, 2 * k + 2
    xa = 'x' if xn == 1 else f'x{xn}'
    ya = 'y' if yan == 1 else f'y{yan}'
    yb = f'y{ybn}'
    p7 = row == 6

    rd, rv = zip(*rains[k])
    fig.add_trace(go.Bar(x=list(rd), y=list(rv), xaxis=xa, yaxis=yb, width=1.6 if p7 else 0.8,
                         marker=dict(color='#b4b4b4' if p7 else '#707070', line=dict(width=0)), hoverinfo='skip'))
    sd, sv = zip(*sorted(sims[k]))
    fig.add_trace(go.Scatter(x=list(sd), y=list(sv), mode='lines', xaxis=xa, yaxis=ya,
                             line=dict(color='#5a5a5a', width=1.0)))
    od, ov = zip(*obss[k])
    fig.add_trace(go.Scatter(x=list(od), y=list(ov), mode='markers', xaxis=xa, yaxis=ya,
                             marker=dict(symbol='circle-open', size=5, color='#d8454f', line=dict(width=1))))

    xkey = 'xaxis' if xn == 1 else f'xaxis{xn}'
    layout[xkey] = dict(domain=[px(l), px(r)], anchor=ya, range=[0, 730 if p7 else 365], automargin=False,
                        tickmode='array', tickvals=P7_TICKS if p7 else MONTH_DAYS,
                        ticktext=P7_LABELS if p7 else MONTH_LABELS,
                        showline=True, linecolor=AX_COL, linewidth=1, mirror=True,
                        ticks='outside', ticklen=5 if p7 else 7, tickcolor=NO_TICK,
                        showgrid=False, zeroline=False, fixedrange=True,
                        tickfont=dict(family=SANS, size=8.5 if p7 else 9, color=TXT_COL))
    yakey = 'yaxis' if yan == 1 else f'yaxis{yan}'
    ym = ymax[k]
    layout[yakey] = dict(domain=[py(b), py(t)], anchor=xa, range=[0, ym], tickmode='linear', tick0=0,
                         dtick=0.2 if ym == 1 else (0.1 if ym == 0.5 else 5), automargin=False,
                         showline=True, linecolor=AX_COL, linewidth=1, ticks='outside', ticklen=4,
                         tickcolor=NO_TICK, showgrid=False, zeroline=False, fixedrange=True, tickfont=tick_font)
    layout[f'yaxis{ybn}'] = dict(overlaying=ya, anchor=xa, side='right', range=[600, 0], tickmode='array',
                                 tickvals=RAIN_TICKS, showline=True, linecolor=AX_COL, linewidth=1, automargin=False,
                                 ticks='outside', ticklen=5, tickcolor=NO_TICK, showgrid=False, zeroline=False,
                                 fixedrange=True, tickfont=tick_font)

    # axis titles
    annotations.append(dict(x=px(l - TITLE_OFF[col]), y=py((t + b) / 2), xref='paper', yref='paper',
                            showarrow=False, xanchor='center', yanchor='middle',
                            text=f'<b>{ytitles[col]}</b>', textangle=-90,
                            font=dict(family=SANS, size=6.5, color='#222')))
    annotations.append(dict(x=px(r + 29), y=py((t + b) / 2), xref='paper', yref='paper', showarrow=False,
                            xanchor='center', yanchor='middle',
                            text='<b>Rainfall(mm)</b>', textangle=-90,
                            font=dict(family=SANS, size=6.5, color='#222')))

    # caption
    annotations.append(dict(x=px(CAP_X[col]), y=py(CAP_Y0 + CAP_DY * row), xref='paper', yref='paper',
                            showarrow=False, xanchor='center', yanchor='middle',
                            text=captions[k].replace('  ', '\u00a0\u00a0'),
                            font=dict(family='Liberation Serif, Times New Roman, serif', size=21, color='#111')))

    # legend box
    if p7:
        bx, by, bw, bh, offs = l + 6, t + 27, 52, 32, (5, 16, 27)
    else:
        bx, by, bw, bh, offs = l + 4, t + 18, 46, 37, (6, 18, 30)
    shapes.append(dict(type='rect', xref='paper', yref='paper', x0=px(bx), x1=px(bx + bw), y0=py(by + bh), y1=py(by),
                       line=dict(color='#555', width=1), fillcolor='white', layer='above'))
    e0, e1, e2 = [by + o for o in offs]
    shapes.append(dict(type='rect', xref='paper', yref='paper', x0=px(bx + 4), x1=px(bx + 13), y0=py(e0 + 2),
                       y1=py(e0 - 2), line=dict(width=0), fillcolor='#555', layer='above'))
    shapes.append(dict(type='line', xref='paper', yref='paper', x0=px(bx + 4), x1=px(bx + 13), y0=py(e1), y1=py(e1),
                       line=dict(color='#555', width=1), layer='above'))
    shapes.append(dict(type='circle', xref='paper', yref='paper', x0=px(bx + 6.5), x1=px(bx + 10.5), y0=py(e2 + 2),
                       y1=py(e2 - 2), line=dict(color='#d8454f', width=1), layer='above'))
    for txt, ey in (('Rainfall', e0), ('Simulated', e1), ('Observed', e2)):
        annotations.append(dict(x=px(bx + 14), y=py(ey), xref='paper', yref='paper', xanchor='left',
                                yanchor='middle', showarrow=False, text=txt,
                                font=dict(family=SANS, size=6.5, color='#222')))

    if p7:
        shapes.append(dict(type='line', xref=xa, yref=f'{ya} domain', x0=365, x1=365, y0=0, y1=1,
                           line=dict(color='#555', width=1, dash='dash')))
        annotations.append(dict(x=0.31, y=0.68, xref=f'{xa} domain', yref=f'{ya} domain', showarrow=False,
                                xanchor='center', yanchor='middle',
                                text='<b>Calibration</b>', font=dict(family=SANS, size=7, color='#222')))
        annotations.append(dict(x=0.66, y=0.68, xref=f'{xa} domain', yref=f'{ya} domain', showarrow=False,
                                xanchor='center', yanchor='middle',
                                text='<b>Validation</b>', font=dict(family=SANS, size=7, color='#222')))

layout['shapes'] = shapes
layout['annotations'] = annotations
fig.update_layout(**layout)
fig.write_html('out.html')
